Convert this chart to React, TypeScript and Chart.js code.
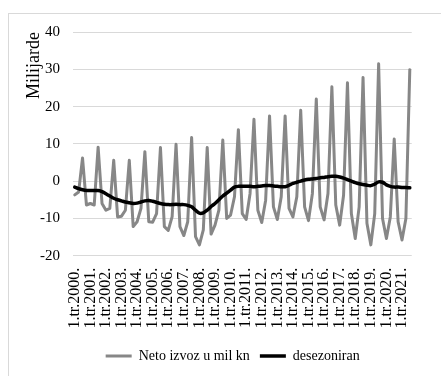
import React, { useEffect, useRef } from 'react';
import { Chart, registerables } from 'chart.js';

Chart.register(...registerables);

const years = [2000, 2001, 2002, 2003, 2004, 2005, 2006, 2007, 2008, 2009, 2010, 2011, 2012, 2013, 2014, 2015, 2016, 2017, 2018, 2019, 2020, 2021];
const quarters = ['1.tr.', '2.tr.', '3.tr.', '4.tr.'];
const lastYearQuarters = 3;
const categories: string[] = [];
years.forEach((y, yi) => {
  const n = yi === years.length - 1 ? lastYearQuarters : 4;
  for (let q = 0; q < n; q++) categories.push(`${quarters[q]}${y}.`);
});

const netoIzvoz = [
  -3.7, -2.9, 6.2, -6.4,
  -6.0, -6.4, 9.1, -6.0,
  -7.8, -7.3, 5.6, -9.6,
  -9.4, -7.8, 5.6, -12.2,
  -10.9, -7.3, 7.9, -10.9,
  -11.0, -8.7, 9.0, -12.2,
  -13.2, -9.5, 9.9, -12.2,
  -14.6, -10.9, 11.7, -14.9,
  -17.1, -13.1, 9.0, -14.2,
  -11.8, -7.8, 11.0, -10.0,
  -9.1, -4.2, 13.8, -8.7,
  -10.3, -3.3, 16.6, -7.8,
  -11.1, -5.1, 17.5, -6.9,
  -10.3, -4.2, 17.5, -7.3,
  -9.6, -4.2, 19.0, -6.9,
  -10.6, -3.3, 22.0, -6.9,
  -10.4, -3.3, 25.3, -6.4,
  -11.8, -3.8, 26.4, -8.7,
  -15.4, -6.9, 27.8, -11.3,
  -17.1, -8.7, 31.5, -10.0,
  -15.4, -9.6, 11.3, -10.9,
  -15.8, -10.0, 29.9,
];

const desezoniran = [
  -1.6, -2.0, -2.3, -2.5,
  -2.5, -2.5, -2.5, -2.8,
  -3.4, -4.0, -4.6, -5.0,
  -5.3, -5.6, -5.8, -6.0,
  -5.9, -5.6, -5.3, -5.2,
  -5.4, -5.7, -6.0, -6.2,
  -6.3, -6.3, -6.2, -6.3,
  -6.3, -6.5, -6.9, -7.8,
  -8.6, -8.5, -7.8, -6.8,
  -6.0, -5.0, -4.0, -3.2,
  -2.4, -1.6, -1.4, -1.4,
  -1.4, -1.4, -1.5, -1.4,
  -1.3, -1.2, -1.2, -1.3,
  -1.4, -1.5, -1.5, -1.1,
  -0.6, -0.3, 0.0, 0.3,
  0.5, 0.6, 0.7, 0.9,
  1.0, 1.2, 1.3, 1.3,
  1.1, 0.8, 0.4, 0.0,
  -0.4, -0.7, -0.9, -1.1,
  -1.2, -0.8, -0.2, -0.3,
  -1.0, -1.4, -1.6, -1.6,
  -1.7, -1.7, -1.8,
];

const yTicks = { min: -20, max: 40, step: 10 };
const seriesNames = ['Neto izvoz u mil kn', 'desezoniran'];
const yTitle = 'Milijarde';

const FONT = "'Liberation Serif', 'Times New Roman', serif";

export default function App() {
  const ref = useRef<HTMLCanvasElement | null>(null);

  useEffect(() => {
    if (!ref.current) return;
    const chart = new Chart(ref.current, {
      type: 'line',
      data: {
        labels: categories,
        datasets: [
          {
            label: seriesNames[0],
            data: netoIzvoz,
            borderColor: '#878787',
            backgroundColor: '#878787',
            borderWidth: 3,
            pointRadius: 0,
            tension: 0,
            borderJoinStyle: 'round',
            borderCapStyle: 'round',
            order: 2,
          },
          {
            label: seriesNames[1],
            data: desezoniran,
            borderColor: '#000000',
            backgroundColor: '#000000',
            borderWidth: 3.5,
            pointRadius: 0,
            tension: 0.3,
            borderJoinStyle: 'round',
            borderCapStyle: 'round',
            order: 1,
          },
        ],
      },
      options: {
        animation: false,
        responsive: false,
        maintainAspectRatio: false,
        devicePixelRatio: 1,
        layout: { padding: { left: 25, right: 0.6, top: 32, bottom: 3 } },
        plugins: {
          tooltip: { enabled: false },
          legend: {
            position: 'bottom',
            labels: {
              usePointStyle: true,
              pointStyle: 'line',
              pointStyleWidth: 26,
              boxHeight: 4,
              padding: 10,
              color: '#000',
              font: { family: FONT, size: 14 },
              sort: (a: any, b: any) => a.datasetIndex - b.datasetIndex,
            },
          },
        },
        scales: {
          x: {
            type: 'category',
            offset: true,
            grid: { display: false, drawTicks: false },
            border: { display: false },
            afterFit: (scale: any) => { scale.height = 83.3; },
            ticks: {
              autoSkip: false,
              maxRotation: 90,
              minRotation: 90,
              padding: 12,
              color: '#000',
              font: { family: FONT, size: 16 },
              callback: (_v: any, i: number) => (i % 4 === 0 ? categories[i] : ''),
            },
          },
          y: {
            min: yTicks.min,
            max: yTicks.max,
            afterFit: (scale: any) => { scale.width = 47.8; },
            grid: { color: '#d9d9d9', lineWidth: 1, drawTicks: false },
            border: { display: false },
            ticks: {
              stepSize: yTicks.step,
              padding: 12.8,
              color: '#000',
              font: { family: FONT, size: 15 },
            },
            title: {
              display: true,
              text: yTitle,
              align: 'end',
              color: '#000',
              padding: { top: 0, bottom: 0 },
              font: { family: FONT, size: 18, lineHeight: 1.0 },
            },
          },
        },
      },
    });
    return () => chart.destroy();
  }, []);

  return (
    <div style={{ position: 'fixed', left: 0, top: 0, width: 441, height: 376, overflow: 'hidden', background: '#fff' }}>
      <div style={{ position: 'absolute', left: 8, top: 13, width: 520, height: 500, border: '1px solid #d9d9d9' }} />
      <canvas ref={ref} width={441} height={376} style={{ position: 'absolute', left: 0, top: 0 }} />
    </div>
  );
}
